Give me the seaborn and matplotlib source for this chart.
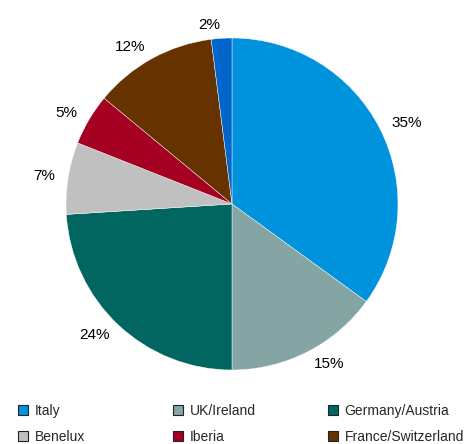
import matplotlib.pyplot as plt
import seaborn as sns
from matplotlib.patches import Patch

regions = ["Italy", "UK/Ireland", "Germany/Austria", "Benelux", "Iberia", "France/Switzerland", "Other"]
shares = [35, 15, 24, 7, 5, 12, 2]
colors = ["#0093DD", "#85A4A4", "#00665F", "#C0C0C0", "#A50021", "#663300", "#0066CC"]
legend_cols = [["Italy", "Benelux"], ["UK/Ireland", "Iberia"], ["Germany/Austria", "France/Switzerland"]]

sns.set_theme(style="white")
plt.rcParams["font.family"] = ["Liberation Sans", "DejaVu Sans"]

fig = plt.figure(figsize=(4.7, 4.44), dpi=100)
ax = fig.add_axes([0.1404, 0.1667, 0.7064, 0.7477])

palette = sns.color_palette(colors)
ax.pie(
    shares,
    colors=palette,
    startangle=90,
    counterclock=False,
    labels=[f"{s}%" for s in shares],
    labeldistance=1.08,
    textprops={"fontsize": 11, "color": "black"},
    wedgeprops={"linewidth": 0.3, "edgecolor": "white"},
)
ax.set_aspect("equal")
ax.set_xlim(-1, 1)
ax.set_ylim(-1, 1)
ax.axis("off")

color_of = dict(zip(regions, colors))
xs = [0.038, 0.368, 0.698]
for x, names in zip(xs, legend_cols):
    handles = [Patch(facecolor=color_of[n], edgecolor="#222222", linewidth=0.8) for n in names]
    fig.legend(
        handles, names,
        loc="upper left", bbox_to_anchor=(x, 0.09),
        frameon=False, fontsize=10,
        handlelength=0.7, handleheight=0.7, handletextpad=0.5,
        labelspacing=0.87, borderaxespad=0, borderpad=0,
    )

fig.savefig("out.png", dpi=100)
